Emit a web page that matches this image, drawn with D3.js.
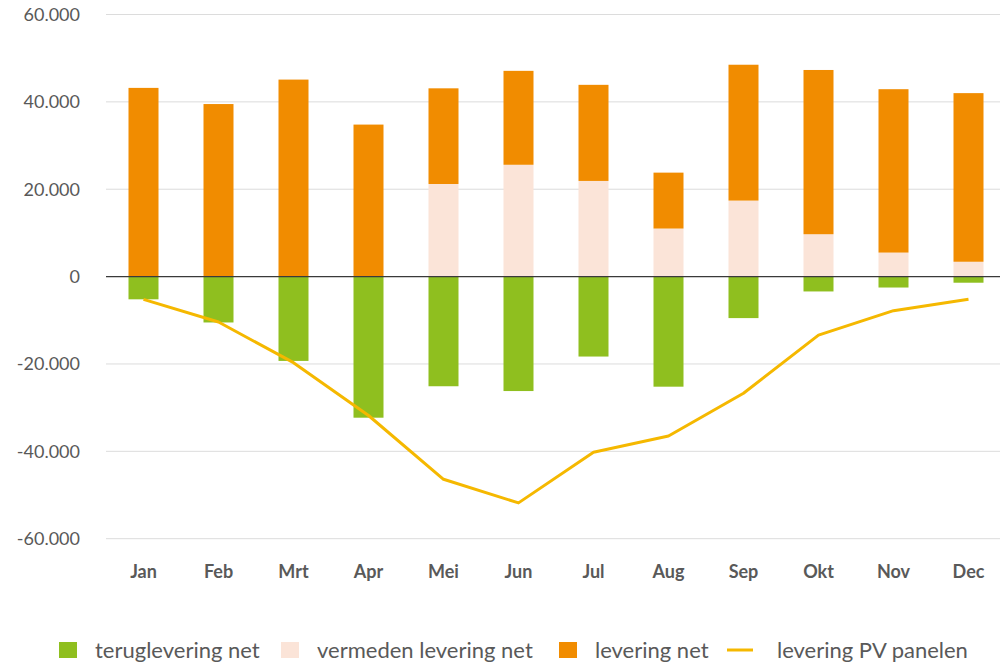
<!DOCTYPE html>
<html>
<head>
<meta charset="utf-8">
<script src="https://cdn.jsdelivr.net/npm/d3@7"></script>
<style>
  body { margin: 0; background: #fff; }
  svg { display: block; font-family: Lato, "Open Sans", sans-serif; }
  .tick-y { font-size: 18px; fill: #595959; }
  .tick-x { font-size: 18px; fill: #595959; font-weight: bold; }
  .legend { font-size: 22px; fill: #595959; }
</style>
</head>
<body>
<div id="chart"></div>
<script>
  var months = ['Jan', 'Feb', 'Mrt', 'Apr', 'Mei', 'Jun', 'Jul', 'Aug', 'Sep', 'Okt', 'Nov', 'Dec'];
  var teruglevering = [-5200, -10500, -19300, -32300, -25100, -26200, -18300, -25200, -9500, -3400, -2500, -1400];
  var vermeden = [0, 0, 0, 0, 21200, 25600, 21900, 11000, 17400, 9700, 5500, 3400];
  var levering = [43200, 39500, 45100, 34800, 21900, 21500, 22000, 12800, 31100, 37600, 37400, 38600];
  var pvPanelen = [-5200, -10400, -19700, -31800, -46400, -51800, -40200, -36500, -26700, -13400, -7800, -5200];
  var yTicks = [-60000, -40000, -20000, 0, 20000, 40000, 60000];

  var keys = ['teruglevering', 'vermeden', 'levering'];
  var labels = {
    teruglevering: 'teruglevering net',
    vermeden: 'vermeden levering net',
    levering: 'levering net',
    pv: 'levering PV panelen'
  };
  var colors = {
    teruglevering: '#8fbf1f',
    vermeden: '#fbe4d8',
    levering: '#f18c00',
    pv: '#f5b800'
  };

  var width = 1000, height = 663;

  var rows = months.map(function(m, i) {
    return { month: m, teruglevering: teruglevering[i], vermeden: vermeden[i], levering: levering[i] };
  });

  var svg = d3.select('#chart').append('svg')
    .attr('width', width)
    .attr('height', height);

  var x = d3.scaleBand()
    .domain(months)
    .range([106, 1006])
    .paddingInner(0.6)
    .paddingOuter(0.3);

  var y = d3.scaleLinear()
    .domain([-60000, 60000])
    .range([538.7, 14.5]);

  var nl = d3.formatLocale({ decimal: ',', thousands: '.', grouping: [3], currency: ['', ''], minus: '-' });
  var fmt = nl.format(',d');

  // gridlines
  svg.append('g').selectAll('line')
    .data(yTicks.filter(function(d) { return d !== 0; }))
    .enter().append('line')
    .attr('x1', 106).attr('x2', width)
    .attr('y1', function(d) { return y(d); })
    .attr('y2', function(d) { return y(d); })
    .attr('stroke', '#dcdcdc')
    .attr('stroke-width', 1);

  // y labels
  svg.append('g').selectAll('text')
    .data(yTicks)
    .enter().append('text')
    .attr('class', 'tick-y')
    .attr('x', 80)
    .attr('y', function(d) { return y(d); })
    .attr('dy', '0.35em')
    .attr('text-anchor', 'end')
    .text(function(d) { return fmt(d); });

  // bars
  var series = d3.stack().keys(keys).offset(d3.stackOffsetDiverging)(rows);

  svg.append('g').selectAll('g')
    .data(series)
    .enter().append('g')
    .attr('fill', function(s) { return colors[s.key]; })
    .selectAll('rect')
    .data(function(s) { return s; })
    .enter().append('rect')
    .attr('x', function(d) { return x(d.data.month); })
    .attr('width', x.bandwidth())
    .attr('y', function(d) { return y(Math.max(d[0], d[1])); })
    .attr('height', function(d) { return Math.abs(y(d[0]) - y(d[1])); });

  // zero line
  svg.append('line')
    .attr('x1', 106).attr('x2', width)
    .attr('y1', y(0)).attr('y2', y(0))
    .attr('stroke', '#3a3a3a')
    .attr('stroke-width', 1.2);

  // PV line
  var line = d3.line()
    .x(function(d, i) { return x(months[i]) + x.bandwidth() / 2; })
    .y(function(d) { return y(d); });

  svg.append('path')
    .datum(pvPanelen)
    .attr('fill', 'none')
    .attr('stroke', colors.pv)
    .attr('stroke-width', 3)
    .attr('stroke-linejoin', 'round')
    .attr('d', line);

  // x labels
  svg.append('g').selectAll('text')
    .data(months)
    .enter().append('text')
    .attr('class', 'tick-x')
    .attr('x', function(d) { return x(d) + x.bandwidth() / 2; })
    .attr('y', 572)
    .attr('dy', '0.35em')
    .attr('text-anchor', 'middle')
    .text(function(d) { return d; });

  // legend
  var legendItems = ['teruglevering', 'vermeden', 'levering', 'pv'];
  var textStarts = [95, 317, 595, 777];
  var legendY = 650;

  var legend = svg.append('g').selectAll('g')
    .data(legendItems)
    .enter().append('g')
    .attr('transform', function(d, i) { return 'translate(' + textStarts[i] + ',' + legendY + ')'; });

  legend.each(function(d) {
    var g = d3.select(this);
    if (d === 'pv') {
      g.append('line')
        .attr('x1', -50).attr('x2', -24)
        .attr('y1', 0).attr('y2', 0)
        .attr('stroke', colors.pv)
        .attr('stroke-width', 3);
    } else {
      g.append('rect')
        .attr('x', -36).attr('y', -8)
        .attr('width', 18).attr('height', 16)
        .attr('fill', colors[d]);
    }
    g.append('text')
      .attr('class', 'legend')
      .attr('x', 0)
      .attr('dy', '0.35em')
      .text(labels[d]);
  });
</script>
</body>
</html>
